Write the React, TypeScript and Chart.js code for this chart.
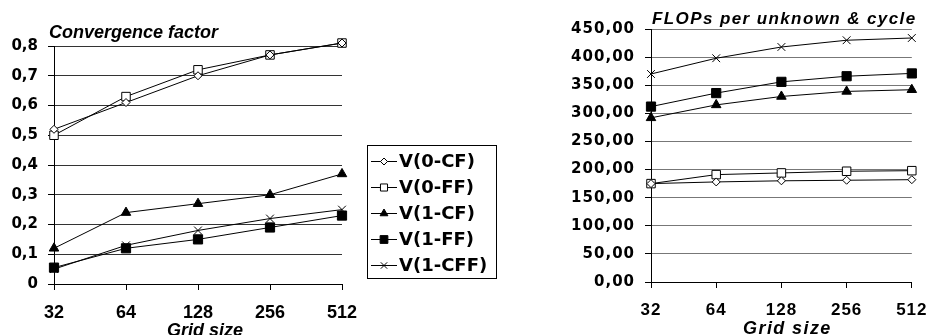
import React, { useEffect, useRef } from 'react';
import { Chart, registerables } from 'chart.js';
import { drawPoint } from 'chart.js/helpers';

Chart.register(...registerables);

// ---------- data ----------
const gridSizes = ['32', '64', '128', '256', '512'];
const seriesNames = ['V(0-CF)', 'V(0-FF)', 'V(1-CF)', 'V(1-FF)', 'V(1-CFF)'];

const convV0CF = [0.52, 0.61, 0.70, 0.77, 0.81];
const convV0FF = [0.50, 0.63, 0.72, 0.77, 0.81];
const convV1CF = [0.12, 0.24, 0.27, 0.30, 0.37];
const convV1FF = [0.055, 0.12, 0.15, 0.19, 0.23];
const convV1CFF = [0.05, 0.13, 0.18, 0.22, 0.25];

const flopsV0CF = [175, 178, 180, 181, 182];
const flopsV0FF = [175, 191, 194, 197, 198];
const flopsV1CF = [292, 315, 330, 339, 342];
const flopsV1FF = [312, 336, 356, 366, 371];
const flopsV1CFF = [370, 398, 418, 430, 434];

const convTitle = 'Convergence factor';
const flopsTitle = 'FLOPs per unknown & cycle';
const xTitle = 'Grid size';

// ---------- styles ----------
const markerStyles = [
  { pointStyle: 'rectRot', radius: 4, fill: '#ffffff' },
  { pointStyle: 'rect', radius: 6, fill: '#ffffff' },
  { pointStyle: 'triangle', radius: 5.5, fill: '#000000' },
  { pointStyle: 'rect', radius: 6.5, fill: '#000000' },
  { pointStyle: 'crossRot', radius: 5.5, fill: '#000000' },
];

function makeDatasets(values: number[][]) {
  return values.map((v, i) => ({
    label: seriesNames[i],
    data: v,
    borderColor: '#000',
    borderWidth: 1,
    backgroundColor: markerStyles[i].fill,
    pointStyle: markerStyles[i].pointStyle,
    pointRadius: markerStyles[i].radius,
    pointHoverRadius: markerStyles[i].radius,
    pointBorderColor: '#000',
    pointBackgroundColor: markerStyles[i].fill,
    pointBorderWidth: 1,
    tension: 0,
    clip: false as any,
  }));
}

const LEFT_FONT = 'Liberation Sans, Arial, sans-serif';
const WIDE_FONT = 'DejaVu Sans, Verdana, sans-serif';

function textPlugin(opts: {
  title: string; titleDx: number; titleDy: number; titleSize: number; titleSpacing: string;
  xDx: number; xBaseline: number; xSize: number; spacing: string;
}) {
  return {
    id: 'texts',
    beforeDraw(chart: any) {
      (chart.ctx as any).letterSpacing = opts.spacing;
    },
    afterDraw(chart: any) {
      const ctx = chart.ctx as any;
      const a = chart.chartArea;
      ctx.save();
      ctx.letterSpacing = opts.titleSpacing;
      ctx.fillStyle = '#000';
      ctx.textBaseline = 'alphabetic';
      ctx.font = `italic bold ${opts.titleSize}px ${LEFT_FONT}`;
      ctx.textAlign = 'left';
      ctx.fillText(opts.title, a.left + opts.titleDx, a.top + opts.titleDy);
      ctx.font = `italic bold ${opts.xSize}px ${LEFT_FONT}`;
      ctx.textAlign = 'center';
      ctx.fillText(xTitle, (a.left + a.right) / 2 + opts.xDx, opts.xBaseline);
      ctx.restore();
    },
  };
}

const legendPlugin = {
  id: 'boxLegend',
  afterDraw(chart: any) {
    const ctx = chart.ctx;
    const x0 = 367, y0 = 145, w = 129, h = 133;
    ctx.save();
    ctx.strokeStyle = '#000';
    ctx.lineWidth = 1;
    ctx.strokeRect(x0 + 0.5, y0 + 0.5, w, h);
    ctx.font = `bold 18px ${WIDE_FONT}`;
    ctx.textBaseline = 'middle';
    ctx.textAlign = 'left';
    chart.data.datasets.forEach((ds: any, i: number) => {
      const y = y0 + 16 + i * 26;
      ctx.beginPath();
      ctx.moveTo(x0 + 4, y + 0.5);
      ctx.lineTo(x0 + 30, y + 0.5);
      ctx.strokeStyle = '#000';
      ctx.stroke();
      ctx.fillStyle = ds.pointBackgroundColor;
      ctx.strokeStyle = '#000';
      drawPoint(ctx, {
        pointStyle: ds.pointStyle,
        radius: Math.max(3.5, ds.pointRadius - 1),
        borderWidth: 1,
        rotation: 0,
      } as any, x0 + 17, y + 0.5);
      ctx.fillStyle = '#000';
      ctx.fillText(ds.label, x0 + 32, y + 1);
    });
    ctx.restore();
  },
};

function baseOptions(cfg: {
  max: number; step: number; fmt: (v: number) => string; yWidth: number; xHeight: number;
  padTop: number; padRight: number; yFont: any; xFont: any; yPad: number; xPad: number; gridColor: string;
}) {
  return {
    responsive: false,
    animation: false as const,
    events: [] as any[],
    layout: { padding: { left: 0, right: cfg.padRight, top: cfg.padTop, bottom: 0 } },
    plugins: { legend: { display: false }, tooltip: { enabled: false }, title: { display: false } },
    scales: {
      x: {
        type: 'category' as const,
        offset: false,
        grid: { display: true, drawOnChartArea: false, drawTicks: true, tickLength: 6, tickColor: '#000', offset: false },
        border: { display: true, color: '#000', width: 1 },
        ticks: { color: '#000', font: cfg.xFont, padding: cfg.xPad, maxRotation: 0, autoSkip: false },
        afterFit: (s: any) => { s.height = cfg.xHeight; },
      },
      y: {
        min: 0,
        max: cfg.max,
        grid: { color: cfg.gridColor, lineWidth: 1, tickLength: 6, tickColor: '#000' },
        border: { display: true, color: '#000', width: 1 },
        ticks: {
          stepSize: cfg.step,
          color: '#000',
          font: cfg.yFont,
          padding: cfg.yPad,
          callback: (v: any) => cfg.fmt(Number(v)),
        },
        afterFit: (s: any) => { s.width = cfg.yWidth; },
      },
    },
  };
}

function ConvergenceChart() {
  const ref = useRef<HTMLCanvasElement>(null);
  useEffect(() => {
    if (!ref.current) return;
    const chart = new Chart(ref.current, {
      type: 'line',
      data: {
        labels: gridSizes,
        datasets: makeDatasets([convV0CF, convV0FF, convV1CF, convV1FF, convV1CFF]) as any,
      },
      options: baseOptions({
        max: 0.8, step: 0.1,
        fmt: (v) => (Math.abs(v) < 1e-9 ? '0' : v.toFixed(1).replace('.', ',')),
        yWidth: 54, xHeight: 51, padTop: 46, padRight: 158,
        yFont: { family: WIDE_FONT, size: 15, weight: 'bold' },
        xFont: { family: LEFT_FONT, size: 18, weight: 'bold' },
        yPad: 10, xPad: 12, gridColor: '#333',
      }) as any,
      plugins: [
        textPlugin({ title: convTitle, titleDx: -5, titleDy: -8, titleSize: 18, titleSpacing: '0px', xDx: 7, xBaseline: 336, xSize: 18, spacing: '0px' }),
        legendPlugin,
      ] as any,
    });
    return () => chart.destroy();
  }, []);
  return <canvas ref={ref} width={500} height={335} style={{ position: 'absolute', left: 0, top: 0, width: 500, height: 335 }} />;
}

function FlopsChart() {
  const ref = useRef<HTMLCanvasElement>(null);
  useEffect(() => {
    if (!ref.current) return;
    const chart = new Chart(ref.current, {
      type: 'line',
      data: {
        labels: gridSizes,
        datasets: makeDatasets([flopsV0CF, flopsV0FF, flopsV1CF, flopsV1FF, flopsV1CFF]) as any,
      },
      options: baseOptions({
        max: 450, step: 50,
        fmt: (v) => v.toFixed(2).replace('.', ','),
        yWidth: 121, xHeight: 53, padTop: 29, padRight: 19,
        yFont: { family: WIDE_FONT, size: 15, weight: 'bold' },
        xFont: { family: LEFT_FONT, size: 17, weight: 'bold' },
        yPad: 10, xPad: 12, gridColor: '#777',
      }) as any,
      plugins: [
        textPlugin({ title: flopsTitle, titleDx: 1, titleDy: -5, titleSize: 17, titleSpacing: '1.4px', xDx: 6, xBaseline: 334, xSize: 18, spacing: '1px' }),
      ] as any,
    });
    return () => chart.destroy();
  }, []);
  return <canvas ref={ref} width={408} height={335} style={{ position: 'absolute', left: 530, top: 0, width: 408, height: 335 }} />;
}

export default function App() {
  return (
    <div style={{ position: 'absolute', left: 0, top: 0, width: 938, height: 335, background: '#fff', overflow: 'hidden' }}>
      <ConvergenceChart />
      <FlopsChart />
    </div>
  );
}
